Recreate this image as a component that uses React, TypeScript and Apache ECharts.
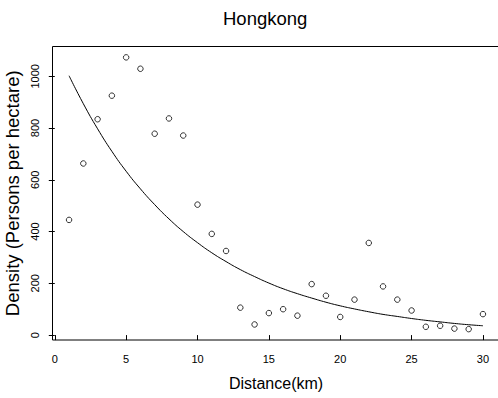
import React, { useEffect, useRef } from "react";
import * as echarts from "echarts";

const distances = [1, 2, 3, 4, 5, 6, 7, 8, 9, 10, 11, 12, 13, 14, 15, 16, 17, 18, 19, 20, 21, 22, 23, 24, 25, 26, 27, 28, 29, 30];
const densities = [445, 663, 834, 925, 1073, 1029, 778, 837, 771, 504, 391, 325, 106, 41, 85, 100, 75, 197, 152, 70, 137, 356, 188, 137, 95, 32, 36, 25, 23, 81];
const fitted = [1002, 894, 797, 710, 633, 565, 504, 449, 400, 357, 318, 284, 253, 226, 201, 179, 160, 143, 127, 113, 101, 90, 80, 72, 64, 57, 51, 45, 40, 36];
const xTicks = [0, 5, 10, 15, 20, 25, 30];
const yTicks = [0, 200, 400, 600, 800, 1000];

const FONT = "'Liberation Sans', Arial, Helvetica, sans-serif";

export default function App() {
  const ref = useRef<HTMLDivElement>(null);
  useEffect(() => {
    document.body.style.margin = "0";
    const chart = echarts.init(ref.current!, null, { renderer: "svg" });
    chart.setOption({
      animation: false,
      backgroundColor: "#ffffff",
      textStyle: { fontFamily: FONT },
      title: {
        text: "Hongkong",
        left: 218,
        top: 4,
        textStyle: { fontFamily: FONT, fontSize: 18.5, fontWeight: "normal", color: "#000" },
      },
      grid: {
        left: 52.5,
        top: 46.5,
        width: 447,
        height: 293.5,
        containLabel: false,
        outerBoundsMode: "none",
        show: true,
        borderColor: "#000",
        borderWidth: 1,
        backgroundColor: "transparent",
      },
      xAxis: {
        type: "value",
        min: -0.16,
        max: 31.16,
        name: "Distance(km)",
        nameLocation: "middle",
        nameGap: 35,
        nameTextStyle: { fontFamily: FONT, fontSize: 16, color: "#000" },
        axisLine: { show: false },
        splitLine: { show: false },
        axisTick: { show: true, inside: false, length: 5, lineStyle: { color: "#000" }, customValues: xTicks },
        axisLabel: { fontFamily: FONT, fontSize: 11, color: "#000", margin: 13, customValues: xTicks, showMinLabel: true, showMaxLabel: true, formatter: (v: number) => String(v) },
      },
      yAxis: {
        type: "value",
        min: -19,
        max: 1115,
        name: "Density (Persons per hectare)",
        nameLocation: "middle",
        nameGap: 19,
        nameRotate: 90,
        nameTextStyle: { fontFamily: FONT, fontSize: 18.5, color: "#000" },
        axisLine: { show: false },
        splitLine: { show: false },
        axisTick: { show: true, inside: false, length: 6, lineStyle: { color: "#000" }, customValues: yTicks },
        axisLabel: { fontFamily: FONT, fontSize: 11, color: "#000", margin: 12, rotate: 90, customValues: yTicks, formatter: (v: number) => String(v) },
      },
      series: [
        {
          type: "scatter",
          data: distances.map((d, i) => [d, densities[i]]),
          symbol: "circle",
          symbolSize: 5.5,
          itemStyle: { color: "#fff", borderColor: "#000", borderWidth: 1 },
          z: 3,
        },
        {
          type: "line",
          data: distances.map((d, i) => [d, fitted[i]]),
          showSymbol: false,
          symbol: "none",
          smooth: true,
          lineStyle: { color: "#000", width: 1 },
          z: 2,
        },
      ],
    });
    return () => chart.dispose();
  }, []);
  return <div ref={ref} style={{ width: 498, height: 398 }} />;
}
